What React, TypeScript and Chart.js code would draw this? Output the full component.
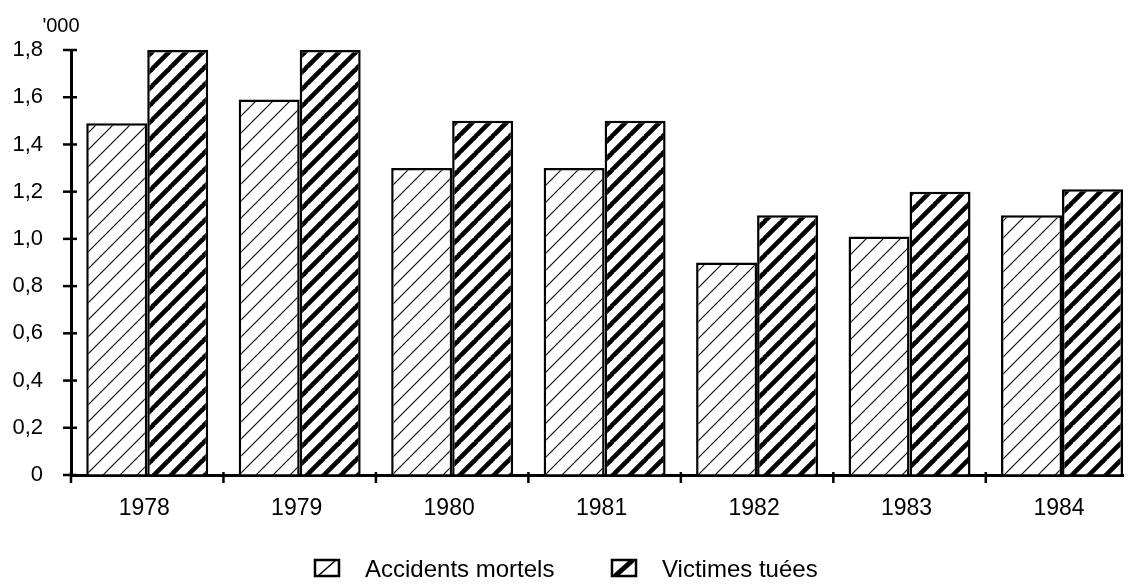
import React, { useEffect, useRef } from "react";
import { Chart, registerables } from "chart.js";

Chart.register(...registerables);

const years = ["1978", "1979", "1980", "1981", "1982", "1983", "1984"];
const accidentsMortels = [1.49, 1.59, 1.3, 1.3, 0.9, 1.01, 1.1];
const victimesTuees = [1.8, 1.8, 1.5, 1.5, 1.1, 1.2, 1.21];
const yTickValues = [0, 0.2, 0.4, 0.6, 0.8, 1.0, 1.2, 1.4, 1.6, 1.8];
const seriesLabels = ["Accidents mortels", "Victimes tuées"];
const unitLabel = "'000";

const FONT = '"Liberation Sans", Arial, Helvetica, sans-serif';

function makeHatch(size: number, lineWidth: number, color: string): CanvasPattern | string {
  const c = document.createElement("canvas");
  c.width = size;
  c.height = size;
  const g = c.getContext("2d");
  if (!g) return "#fff";
  g.fillStyle = "#fff";
  g.fillRect(0, 0, size, size);
  g.strokeStyle = color;
  g.lineWidth = lineWidth;
  g.lineCap = "butt";
  for (const k of [-1, 0, 1]) {
    g.beginPath();
    g.moveTo(k * size - 1, size + 1);
    g.lineTo(k * size + size + 1, -1);
    g.stroke();
  }
  const ctx2 = document.createElement("canvas").getContext("2d");
  const p = ctx2 ? ctx2.createPattern(c, "repeat") : null;
  return p || "#fff";
}

export default function App() {
  const ref = useRef<HTMLCanvasElement | null>(null);

  useEffect(() => {
    if (!ref.current) return;
    const light = makeHatch(17, 1.2, "#111");
    const dark = makeHatch(17, 4.6, "#000");

    const decor = {
      id: "decor",
      afterDraw(chart: any) {
        const ctx = chart.ctx;
        const xs = chart.scales.x;
        const ys = chart.scales.y;
        const bottom = chart.chartArea.bottom;
        const left = chart.chartArea.left;
        ctx.save();
        ctx.strokeStyle = "#000";
        ctx.lineWidth = 2.5;
        for (const v of yTickValues) {
          const py = ys.getPixelForValue(v);
          ctx.beginPath();
          ctx.moveTo(left - 8, py);
          ctx.lineTo(left + 6, py);
          ctx.stroke();
        }
        for (let i = -1; i < years.length - 1; i++) {
          const px = xs.getPixelForValue(i + 0.5);
          ctx.beginPath();
          ctx.moveTo(px, bottom - 3);
          ctx.lineTo(px, bottom + 8);
          ctx.stroke();
        }
        ctx.fillStyle = "#000";
        ctx.font = `20px ${FONT}`;
        ctx.textAlign = "center";
        ctx.textBaseline = "alphabetic";
        ctx.fillText(unitLabel, 61, 32);

        const items = [
          { x: 315, tx: 365, thick: 1.4 },
          { x: 612, tx: 662, thick: 5 },
        ];
        ctx.font = `24px ${FONT}`;
        ctx.textAlign = "left";
        items.forEach((it, idx) => {
          const bx = it.x, by = 560, bw = 24, bh = 16;
          ctx.fillStyle = "#fff";
          ctx.fillRect(bx, by, bw, bh);
          ctx.save();
          ctx.beginPath();
          ctx.rect(bx, by, bw, bh);
          ctx.clip();
          ctx.lineWidth = it.thick;
          ctx.beginPath();
          ctx.moveTo(bx + 3, by + bh);
          ctx.lineTo(bx + bw - 3, by);
          ctx.stroke();
          ctx.restore();
          ctx.lineWidth = 2.5;
          ctx.strokeRect(bx, by, bw, bh);
          ctx.fillStyle = "#000";
          ctx.fillText(seriesLabels[idx], it.tx, 577);
        });
        ctx.restore();
      },
    };

    const chart = new Chart(ref.current, {
      type: "bar",
      data: {
        datasets: [
          {
            label: seriesLabels[0],
            data: years.map((_, i) => ({ x: i, y: accidentsMortels[i] })),
            backgroundColor: light as any,
            borderColor: "#000",
            borderWidth: 2.5,
            borderSkipped: "start",
            categoryPercentage: 0.8,
            barPercentage: 1.0,
          },
          {
            label: seriesLabels[1],
            data: years.map((_, i) => ({ x: i, y: victimesTuees[i] })),
            backgroundColor: dark as any,
            borderColor: "#000",
            borderWidth: 2.5,
            borderSkipped: "start",
            categoryPercentage: 0.8,
            barPercentage: 1.0,
          },
        ],
      },
      options: {
        animation: false,
        responsive: false,
        layout: { padding: { top: 50, right: 10, left: 0, bottom: 0 } },
        plugins: { legend: { display: false }, tooltip: { enabled: false } },
        scales: {
          x: {
            type: "linear",
            min: -0.5,
            max: 6.4,
            offset: false,
            grid: { display: true, offset: false, drawOnChartArea: false, drawTicks: false },
            border: { display: true, color: "#000", width: 3 },
            ticks: {
              padding: 20,
              labelOffset: -3,
              color: "#000",
              font: { family: FONT, size: 23 },
              autoSkip: false,
              maxRotation: 0,
              callback: (v: any) => years[v] ?? "",
            },
            afterBuildTicks: (s: any) => {
              s.ticks = years.map((_, i) => ({ value: i }));
            },
            afterFit: (s: any) => {
              s.height = 109;
            },
          },
          y: {
            min: 0,
            max: 1.8,
            grid: { display: true, drawOnChartArea: false, drawTicks: false },
            border: { display: true, color: "#000", width: 3 },
            ticks: {
              padding: 28,
              color: "#000",
              font: { family: FONT, size: 22 },
              callback: (v: any) => (Number(v) === 0 ? "0" : Number(v).toFixed(1).replace(".", ",")),
            },
            afterBuildTicks: (s: any) => {
              s.ticks = yTickValues.map((v) => ({ value: v }));
            },
            afterFit: (s: any) => {
              s.width = 71;
            },
          },
        },
      },
      plugins: [decor],
    } as any);

    return () => chart.destroy();
  }, []);

  return (
    <div style={{ position: "fixed", left: 0, top: 0, width: 1133, height: 584, background: "#fff" }}>
      <canvas ref={ref} width={1133} height={584} style={{ display: "block" }} />
    </div>
  );
}
